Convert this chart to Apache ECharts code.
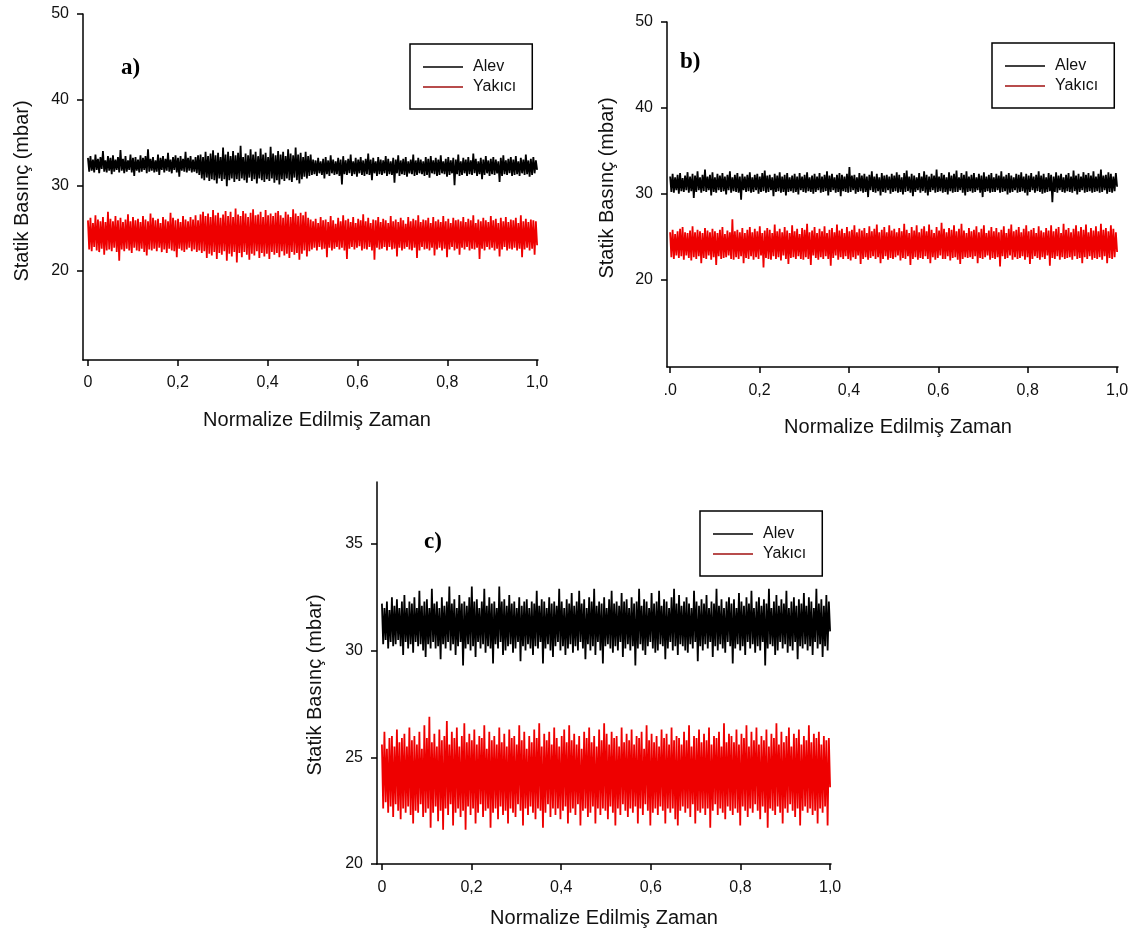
<!DOCTYPE html>
<html>
<head>
<meta charset="utf-8">
<script src="https://cdn.jsdelivr.net/npm/echarts@6/dist/echarts.min.js"></script>
<style>
  html, body { margin: 0; padding: 0; background: #fff; }
  #chart { width: 1140px; height: 937px; }
</style>
</head>
<body>
<div id="chart"></div>
<script>
// tick labels
const xTicks = [0, 0.2, 0.4, 0.6, 0.8, 1.0];
const yTicksAB = [20, 30, 40, 50];
const yTicksC = [20, 25, 30, 35];

// a) statik basinc, mbar (envelope of the signal)
const alevA = [
  33.2,31.6,33.4,31.7,33.0,31.5,33.6,31.8,33.1,31.4,33.3,31.9,34.0,31.6,32.9,31.5,33.4,31.7,33.2,31.3,
  33.5,31.6,33.0,31.8,33.3,31.5,34.1,31.7,33.1,31.4,33.4,31.6,32.9,31.8,33.6,31.5,33.2,31.1,33.3,31.7,
  33.0,31.5,33.5,31.6,33.2,31.8,33.4,31.4,34.2,31.6,33.1,31.7,33.3,31.5,32.9,31.6,33.6,31.2,33.2,31.8,
  33.4,31.5,33.1,31.7,33.8,31.6,33.0,31.4,33.3,31.8,33.5,31.5,33.2,31.0,33.4,31.7,33.1,31.6,33.9,31.5,
  33.2,31.7,33.4,31.5,33.0,31.6,33.3,31.4,33.5,31.2,33.6,30.8,33.3,30.6,33.9,30.9,33.4,30.5,33.7,30.7,
  34.1,30.6,33.5,30.2,33.8,30.8,33.3,30.5,34.4,30.7,33.6,29.9,33.9,30.6,33.4,30.8,34.0,30.4,33.5,30.7,
  33.8,30.5,34.6,30.8,33.3,30.6,33.7,30.3,33.5,30.9,34.2,30.5,33.6,30.7,33.9,30.2,33.4,30.8,34.3,30.6,
  33.6,30.4,33.8,30.7,33.3,30.5,34.5,30.8,33.7,30.3,33.5,30.6,34.0,30.1,33.6,30.7,33.9,30.5,33.4,30.8,
  34.2,30.6,33.7,30.4,33.5,30.9,34.4,30.6,33.6,30.2,33.8,30.7,33.3,31.0,33.9,30.8,33.4,31.1,33.6,31.2,
  33.0,31.3,32.9,31.1,33.2,31.4,32.8,31.2,33.1,30.8,33.3,31.3,32.9,31.1,33.5,31.4,33.0,31.2,32.8,31.3,
  33.2,31.1,33.0,30.1,33.4,31.3,32.9,31.2,33.1,31.4,33.6,31.1,32.8,31.3,33.2,31.0,33.0,31.4,33.3,31.2,
  32.9,31.1,33.1,31.3,33.7,31.2,33.0,30.6,33.2,31.4,32.8,31.1,33.3,31.3,33.0,31.2,32.9,31.4,33.4,31.1,
  33.1,31.3,32.8,31.2,33.2,30.3,33.0,31.4,33.5,31.1,32.9,31.3,33.1,31.2,33.3,31.0,32.8,31.4,33.0,31.3,
  33.6,31.1,32.9,31.2,33.2,31.4,33.0,31.3,32.8,31.1,33.3,31.2,33.1,30.9,33.4,31.4,32.9,31.3,33.2,31.1,
  33.0,31.2,33.5,31.4,32.8,31.3,33.1,31.0,33.3,31.2,32.9,31.4,33.2,30.0,33.0,31.3,33.6,31.1,32.8,31.2,
  33.2,31.4,33.0,31.1,33.3,31.3,32.9,31.2,33.7,31.4,33.1,31.1,32.8,31.3,33.2,30.7,33.0,31.2,33.4,31.4,
  32.9,31.1,33.1,31.3,33.3,31.2,33.0,31.4,32.8,30.4,33.2,31.1,33.5,31.3,32.9,31.2,33.1,31.4,33.3,31.1,
  33.0,31.2,33.4,31.3,32.8,31.1,33.2,31.4,33.0,31.2,33.6,31.3,32.9,31.0,33.1,31.2,33.3,31.4,32.9,31.8
];
const yakiciA = [
  25.9,22.5,26.2,22.3,25.6,22.8,26.5,22.4,26.0,22.2,25.8,22.6,26.3,21.9,25.7,22.4,26.9,22.5,26.1,22.3,
  25.8,22.7,26.4,22.2,25.9,21.2,26.2,22.5,25.7,22.3,26.0,22.6,26.6,22.4,25.8,22.1,26.3,22.7,25.9,22.4,
  26.1,22.3,25.7,22.6,26.4,22.2,26.0,21.8,25.8,22.5,26.7,22.4,26.2,22.6,25.9,22.3,26.1,22.7,25.6,22.2,
  26.3,22.5,26.0,22.1,25.8,22.6,26.8,22.4,26.2,22.3,25.9,21.6,26.1,22.6,25.7,22.4,26.4,22.2,26.0,22.5,
  25.8,22.7,26.3,22.3,26.0,22.5,26.5,22.2,25.9,22.4,26.6,22.1,26.9,22.3,26.4,21.5,26.7,22.0,26.3,21.8,
  27.1,22.2,26.5,21.4,26.8,22.1,26.2,21.9,26.6,22.3,27.0,21.2,26.4,22.0,26.9,21.7,26.3,22.2,27.3,21.0,
  26.6,22.1,26.4,21.6,27.0,22.2,26.7,21.9,26.3,21.3,26.8,22.0,27.2,21.8,26.5,22.3,26.6,21.5,26.9,22.1,
  26.3,21.7,27.1,22.0,26.5,21.4,26.7,22.2,26.4,21.9,26.8,22.1,27.0,21.6,26.5,22.3,26.2,21.8,26.9,22.0,
  26.6,21.5,26.3,22.2,27.2,21.9,26.7,22.1,26.4,21.3,26.8,22.0,26.5,22.4,26.9,21.7,26.2,22.3,26.0,22.5,
  25.8,22.7,26.1,22.4,25.6,22.8,26.3,22.5,25.9,22.6,26.0,21.6,25.7,22.7,26.4,22.4,25.9,22.6,25.5,22.8,
  26.2,22.5,25.8,22.7,26.5,22.4,25.9,21.4,26.1,22.6,25.7,22.8,26.3,22.5,25.6,22.7,26.1,22.9,25.9,22.4,
  26.6,22.6,25.8,22.5,26.2,22.8,25.6,22.4,26.0,21.3,25.9,22.7,26.3,22.5,25.7,22.6,26.1,22.8,25.9,22.4,
  25.6,22.8,26.4,22.5,25.8,22.6,26.0,21.7,25.7,22.7,26.2,22.4,25.9,22.6,25.5,22.8,26.3,22.5,25.8,22.4,
  26.1,22.7,25.9,21.5,26.5,22.4,25.7,22.8,26.0,22.5,25.9,22.6,26.2,22.4,25.6,22.7,26.3,21.8,25.8,22.5,
  26.0,22.7,25.7,22.4,26.4,22.6,25.8,21.6,26.1,22.5,25.6,22.8,26.2,22.4,25.9,22.6,26.0,21.9,25.8,22.7,
  26.3,22.5,25.7,22.8,26.1,22.4,25.9,22.6,26.5,22.5,25.6,22.7,26.0,21.4,25.8,22.6,26.2,22.4,25.9,22.8,
  25.7,22.5,26.4,22.7,25.9,22.4,26.1,22.6,25.6,21.7,26.2,22.5,25.8,22.8,26.3,22.4,25.7,22.6,26.0,22.5,
  25.9,22.7,26.2,22.4,25.6,22.6,26.5,21.6,25.8,22.5,26.1,22.7,25.7,22.4,26.0,22.6,25.9,21.9,25.8,23.0
];

// b)
const alevB = [
  32.0,30.2,32.3,30.1,31.9,30.4,32.2,30.0,32.4,30.3,31.8,30.2,32.1,30.4,32.5,30.1,32.0,30.3,32.3,29.5,
  32.1,30.2,32.6,30.4,31.9,30.1,32.2,30.3,32.8,30.2,32.0,30.4,32.2,29.8,32.5,30.2,31.9,30.1,32.3,30.4,
  32.1,30.2,32.4,30.3,32.0,29.9,32.2,30.4,32.6,30.1,31.9,30.3,32.2,30.2,32.4,30.1,32.0,29.3,32.3,30.4,
  32.0,30.2,32.2,30.3,32.5,30.1,31.9,30.2,32.2,30.4,32.3,30.0,32.0,30.2,32.4,30.3,32.7,30.1,32.1,30.2,
  32.2,30.4,31.9,29.7,32.3,30.2,32.1,30.3,32.5,30.1,32.0,30.2,32.2,29.8,32.4,30.2,31.9,30.3,32.1,30.1,
  32.3,30.2,32.0,29.9,32.4,30.4,32.0,30.2,32.2,30.1,32.5,30.3,31.9,30.2,32.1,30.0,32.3,30.2,32.0,30.4,
  32.4,30.1,32.0,30.2,32.2,30.3,32.6,29.8,32.1,30.2,32.3,30.4,31.9,30.1,32.2,30.2,32.4,29.7,32.2,30.3,
  32.0,30.2,32.3,30.1,33.1,30.2,32.1,30.4,32.2,30.0,31.9,30.2,32.4,30.3,32.1,30.1,32.3,30.2,32.0,29.6,
  32.2,30.4,32.6,30.2,32.0,30.1,32.3,30.3,31.9,29.8,32.4,30.2,32.1,30.1,32.2,30.4,32.0,30.0,32.3,30.2,
  32.1,30.3,32.5,30.1,32.2,30.2,31.9,29.9,32.4,30.2,32.7,30.3,32.0,30.1,32.3,29.7,32.1,30.2,31.9,30.4,
  32.4,30.1,32.0,30.3,32.6,30.1,32.2,29.8,32.0,30.2,32.3,30.4,32.1,30.1,32.8,30.2,32.0,30.3,32.4,30.1,
  32.2,30.2,31.9,29.9,32.5,30.3,32.1,30.1,32.3,30.2,32.7,30.2,31.9,30.4,32.4,30.1,32.2,29.8,32.6,30.2,
  32.0,30.3,32.2,30.1,32.4,30.2,31.9,30.4,32.3,30.1,32.1,29.6,32.5,30.2,32.0,30.3,32.2,30.1,32.4,30.2,
  31.9,30.2,32.3,30.4,32.1,30.1,32.6,30.2,32.0,30.3,32.2,29.9,32.4,30.1,32.1,30.2,31.9,30.4,32.3,30.1,
  32.2,30.2,32.5,30.3,32.0,30.1,32.3,29.8,32.1,30.2,32.4,30.4,32.0,30.1,32.2,30.3,32.6,30.2,32.1,30.0,
  32.3,30.1,31.9,30.2,32.4,30.3,32.2,29.0,32.0,30.2,32.5,30.1,32.1,30.4,32.3,30.2,31.9,30.1,32.2,30.3,
  32.4,30.2,32.0,30.1,32.7,30.3,32.1,29.9,32.3,30.2,32.0,30.4,32.5,30.1,32.2,30.2,32.4,30.3,32.1,30.1,
  32.6,30.2,32.0,30.3,32.3,30.1,32.8,30.2,32.1,30.4,32.2,30.0,32.5,30.2,32.3,30.1,32.0,30.3,32.4,30.8
];
const yakiciB = [
  25.5,22.6,25.8,22.4,25.3,22.8,25.6,22.5,25.9,22.7,26.1,22.3,25.5,22.8,25.4,22.5,25.7,22.2,26.2,22.6,
  25.5,22.4,25.8,22.7,25.6,21.9,25.4,22.5,26.0,22.4,25.7,22.8,25.5,22.3,25.9,22.6,25.6,21.7,25.4,22.7,
  25.8,22.4,26.1,22.5,25.3,22.6,25.7,22.8,25.5,22.4,27.0,22.3,25.6,22.6,25.8,22.4,25.5,22.7,26.0,21.9,
  25.4,22.5,25.8,22.4,26.1,22.7,25.5,22.3,25.9,22.6,25.6,22.4,26.2,22.8,25.4,21.4,25.7,22.5,26.0,22.4,
  25.8,22.3,25.4,22.7,26.4,22.4,25.6,22.6,25.9,22.2,25.5,22.8,26.1,22.4,25.7,21.8,25.4,22.5,26.3,22.6,
  25.6,22.4,25.9,22.7,25.3,22.4,26.0,22.3,25.8,22.6,26.5,22.4,25.5,21.7,25.7,22.8,26.1,22.5,25.4,22.3,
  25.9,22.6,25.6,22.4,26.2,22.7,25.4,22.4,25.8,21.6,26.0,22.5,25.5,22.8,26.4,22.3,25.7,22.6,25.9,22.4,
  25.4,22.7,26.1,22.4,25.6,22.2,25.8,22.6,26.3,22.4,25.5,22.8,25.9,21.8,25.7,22.4,26.0,22.6,25.4,22.3,
  26.2,22.5,25.6,22.7,25.9,22.4,26.4,22.6,25.5,21.9,25.8,22.4,26.1,22.7,25.5,22.3,26.3,22.5,25.7,22.4,
  25.9,22.6,25.5,22.8,26.0,22.2,25.6,22.5,26.5,22.4,25.8,22.7,25.4,21.7,26.1,22.4,25.7,22.6,26.3,22.3,
  25.5,22.5,25.9,22.4,26.2,22.7,25.6,22.4,26.4,21.9,25.8,22.6,25.4,22.3,26.1,22.5,25.7,22.8,26.6,22.4,
  25.9,22.4,25.5,22.7,26.0,22.2,25.8,22.5,26.3,22.6,25.6,22.3,25.9,21.8,26.5,22.4,25.7,22.6,25.4,22.5,
  26.0,22.6,25.6,22.4,25.8,22.7,26.2,21.9,25.5,22.5,25.9,22.4,26.3,22.6,25.4,22.8,25.7,22.3,26.1,22.5,
  25.6,22.4,26.0,22.6,25.5,21.5,25.8,22.7,26.2,22.4,25.4,22.5,25.9,22.8,26.4,22.3,25.6,22.6,25.8,22.4,
  26.1,22.5,25.5,22.7,25.9,22.3,26.3,22.6,25.6,21.8,25.8,22.4,26.0,22.7,25.4,22.5,26.2,22.3,25.7,22.6,
  25.5,22.4,26.0,22.8,25.7,21.6,26.3,22.5,25.6,22.4,25.9,22.7,26.1,22.3,25.4,22.6,26.5,22.4,25.8,22.5,
  26.0,22.6,25.5,22.3,25.9,22.7,26.3,22.4,25.6,22.5,26.1,21.9,25.8,22.6,26.4,22.4,25.5,22.7,26.0,22.3,
  25.7,22.5,26.2,22.4,25.6,22.6,26.5,22.3,25.8,22.7,26.0,21.9,25.6,22.5,26.3,22.4,25.9,22.6,25.5,23.2
];

// c)
const alevC = [
  32.2,30.3,32.0,30.5,32.3,30.1,31.9,30.4,32.5,30.2,32.1,30.3,32.4,30.5,32.0,30.2,32.3,29.8,32.6,30.4,
  32.0,30.1,32.3,30.3,32.2,29.9,32.5,30.4,32.0,30.2,32.8,30.3,32.1,30.0,32.3,29.7,32.4,30.3,32.0,30.1,
  32.9,30.4,32.2,30.1,32.3,30.2,32.0,29.6,32.5,30.3,32.1,30.1,32.3,30.4,33.0,30.0,32.2,30.3,32.4,29.8,
  32.0,30.2,32.6,30.4,32.2,29.3,32.3,30.1,32.1,30.3,32.5,30.0,33.0,30.2,32.3,29.7,32.4,30.4,32.0,30.1,
  32.3,30.3,32.9,29.9,32.1,30.2,32.5,30.1,32.2,29.4,32.3,30.3,32.0,30.1,33.0,30.4,32.3,29.8,32.4,30.0,
  32.1,30.2,32.6,30.3,32.2,29.9,32.3,30.1,32.0,30.4,32.5,29.5,32.1,30.2,32.3,30.0,32.4,30.3,32.0,30.1,
  32.3,29.8,32.2,30.2,32.8,30.1,32.1,30.4,32.4,29.4,32.3,30.1,32.0,30.3,32.5,30.0,32.2,29.7,32.3,30.2,
  32.1,30.4,32.9,30.0,32.3,30.2,32.0,29.8,32.4,30.1,32.2,30.3,32.7,29.9,32.1,30.2,32.3,30.0,32.8,30.4,
  32.2,30.1,32.4,29.6,32.0,30.3,32.5,30.0,32.3,30.2,32.9,29.8,32.1,30.4,32.3,30.0,32.2,29.4,32.5,30.2,
  32.0,30.3,32.4,30.1,32.8,29.9,32.2,30.2,32.3,30.0,32.1,30.4,32.7,29.7,32.3,30.1,32.4,30.3,32.0,30.0,
  32.5,30.2,32.2,29.3,32.3,30.1,32.9,30.3,32.1,30.0,32.4,29.8,32.3,30.2,32.0,30.4,32.7,30.1,32.2,29.9,
  32.3,30.0,32.8,30.3,32.1,30.2,32.4,29.6,32.3,30.1,32.0,30.4,32.5,30.0,32.9,30.2,32.2,29.8,32.6,30.3,
  32.1,30.2,32.3,30.0,32.5,29.9,32.2,30.3,32.0,30.1,32.8,30.4,32.3,29.5,32.1,30.2,32.4,30.0,32.2,30.3,
  32.6,30.1,32.0,30.4,32.3,29.7,32.2,30.2,32.9,30.0,32.1,30.3,32.4,30.1,32.0,29.9,32.3,30.4,32.5,30.2,
  32.2,29.4,32.4,30.1,32.0,30.3,32.7,30.0,32.3,30.2,32.1,29.8,32.5,30.4,32.2,30.1,32.8,30.3,32.0,29.9,
  32.3,30.2,32.5,30.0,32.1,30.4,32.4,29.3,32.2,30.1,32.9,30.3,32.0,30.2,32.3,29.8,32.6,30.0,32.1,30.4,
  32.4,30.1,32.2,30.3,32.8,29.9,32.0,30.2,32.3,30.0,32.5,30.4,32.1,29.6,32.4,30.2,32.2,30.1,32.7,30.3,
  32.1,30.0,32.5,30.2,32.3,29.8,32.0,30.4,32.9,30.1,32.2,30.3,32.4,29.7,32.1,30.2,32.6,30.0,32.3,30.9
];
const yakiciC = [
  25.6,22.6,26.2,22.9,25.4,22.4,25.9,22.7,26.0,22.2,25.5,22.8,26.3,22.5,25.7,22.1,25.9,22.6,26.1,22.4,
  25.5,22.7,26.4,22.3,25.8,21.9,26.0,22.5,25.6,22.4,26.2,22.8,25.4,22.2,26.5,22.4,25.9,22.6,26.9,21.7,
  25.7,22.4,26.1,22.7,25.5,22.0,26.3,22.5,25.8,21.6,26.0,22.6,26.7,22.3,25.6,22.8,26.2,21.8,25.9,22.4,
  26.4,22.6,25.5,22.2,26.0,22.5,26.6,21.6,25.7,22.7,26.1,22.3,25.8,22.6,26.3,21.9,25.6,22.4,26.0,22.8,
  25.9,22.2,26.5,22.5,25.4,22.6,26.2,21.7,25.8,22.4,26.0,22.6,25.6,22.1,26.4,22.7,25.7,22.3,26.1,22.5,
  25.5,21.9,26.3,22.6,25.9,22.4,26.0,22.2,25.6,22.8,26.5,22.5,25.8,21.8,26.2,22.6,25.4,22.3,26.0,22.7,
  25.7,22.4,26.3,22.1,25.9,22.6,26.6,22.5,25.5,21.7,26.1,22.4,25.8,22.8,26.2,22.2,25.6,22.6,26.4,22.3,
  25.9,22.6,25.5,22.1,26.0,22.5,26.3,22.7,25.7,21.9,26.5,22.4,25.8,22.6,26.1,22.3,25.6,22.8,26.0,21.8,
  25.4,22.5,26.2,22.6,25.9,22.2,26.4,22.4,25.7,22.7,26.0,21.9,25.5,22.6,26.3,22.3,25.8,22.6,26.6,22.5,
  26.1,22.1,25.6,22.7,26.2,22.4,25.9,21.8,26.0,22.6,25.5,22.3,26.4,22.8,25.7,22.5,26.1,22.2,25.8,22.6,
  26.3,22.4,25.6,22.7,26.0,21.9,25.9,22.6,26.2,22.3,25.4,22.8,26.5,22.5,25.8,21.8,26.1,22.4,25.7,22.6,
  26.0,22.3,25.5,22.7,26.3,22.5,25.9,21.9,26.1,22.6,25.6,22.4,26.4,22.6,25.8,22.1,26.0,21.8,25.9,22.5,
  25.6,22.7,26.2,22.4,25.8,22.6,26.5,22.2,25.5,22.8,26.0,21.9,25.9,22.5,26.3,22.4,25.7,22.6,26.1,22.3,
  25.8,22.6,26.4,21.7,25.6,22.5,26.0,22.8,25.9,22.3,26.2,22.6,25.5,22.4,26.6,22.1,25.7,22.7,26.1,22.5,
  26.0,22.3,25.7,22.6,26.3,22.4,25.6,21.8,26.1,22.7,25.9,22.5,26.5,22.2,25.5,22.6,26.2,22.4,25.8,22.8,
  26.4,22.5,25.6,22.1,26.0,22.7,25.8,22.4,26.3,21.7,25.5,22.6,26.1,22.5,25.9,22.3,26.6,22.7,25.6,22.4,
  26.2,21.9,25.7,22.6,26.0,22.4,26.4,22.8,25.5,22.5,26.1,22.2,25.9,22.6,26.3,21.8,25.6,22.5,26.0,22.7,
  25.8,22.4,26.5,22.6,25.7,22.3,26.1,22.5,25.9,21.9,26.2,22.6,25.6,22.4,26.0,22.7,25.8,21.8,25.9,23.6
];

// samples are evenly spread over normalized time 0..1
function toPoints(vals) {
  return vals.map(function (v, i) { return [i / (vals.length - 1), v]; });
}

var chart = echarts.init(document.getElementById('chart'));

var axisColor = '#000';
var labelFont = { fontFamily: 'Arial, "Liberation Sans", sans-serif', fontSize: 16, color: '#111' };

function xAxisFor(gridIndex, min, zeroText, margin) {
  return {
    type: 'value', gridIndex: gridIndex, min: min, max: 1.002,
    axisLine: { show: true, onZero: false, lineStyle: { color: axisColor, width: 1.5 } },
    axisTick: { show: true, length: 6, customValues: xTicks, lineStyle: { color: axisColor, width: 1.5 } },
    axisLabel: Object.assign({
      margin: margin, customValues: xTicks,
      formatter: function (v) { return v === 0 ? zeroText : v.toFixed(1).replace('.', ','); }
    }, labelFont),
    splitLine: { show: false }
  };
}

function yAxisFor(gridIndex, min, max, ticks) {
  return {
    type: 'value', gridIndex: gridIndex, min: min, max: max,
    axisLine: { show: true, onZero: false, lineStyle: { color: axisColor, width: 1.5 } },
    axisTick: { show: true, length: 6, customValues: ticks, lineStyle: { color: axisColor, width: 1.5 } },
    axisLabel: Object.assign({ margin: 14, customValues: ticks }, labelFont),
    splitLine: { show: false }
  };
}

function lineSeries(name, idx, vals, color) {
  return {
    name: name, type: 'line', xAxisIndex: idx, yAxisIndex: idx,
    data: toPoints(vals), symbol: 'none', sampling: null,
    lineStyle: { color: color, width: 1.8 }, itemStyle: { color: color },
    animation: false, silent: true
  };
}

function legendAt(left, top) {
  return {
    orient: 'vertical', left: left, top: top,
    icon: 'rect', itemWidth: 40, itemHeight: 1.5, itemGap: 4,
    padding: [15, 16, 14, 13],
    borderColor: '#000', borderWidth: 1.5, borderRadius: 0,
    backgroundColor: '#fff',
    selectedMode: false,
    textStyle: { fontFamily: 'Arial, "Liberation Sans", sans-serif', fontSize: 16, color: '#111', padding: [0, 0, 0, 5] },
    data: [
      { name: 'Alev', itemStyle: { color: '#000' } },
      { name: 'Yakıcı', itemStyle: { color: '#a01010' } }
    ]
  };
}

function yTitle(x, y, text) {
  return {
    type: 'text', x: x, y: y, rotation: Math.PI / 2,
    style: { text: text, font: '20px Arial, "Liberation Sans", sans-serif', fill: '#111', align: 'center', verticalAlign: 'middle' }
  };
}
function xTitle(x, y, text) {
  return {
    type: 'text', x: x, y: y,
    style: { text: text, font: '20px Arial, "Liberation Sans", sans-serif', fill: '#111', align: 'center', verticalAlign: 'middle' }
  };
}
function panelTag(x, y, text) {
  return {
    type: 'text', x: x, y: y,
    style: { text: text, font: 'bold 23px "Liberation Serif", "Times New Roman", serif', fill: '#000', align: 'left', verticalAlign: 'middle' }
  };
}

chart.setOption({
  animation: false,
  backgroundColor: '#fff',
  grid: [
    { left: 83, top: 14, width: 455, height: 346 },
    { left: 667, top: 22, width: 451, height: 345 },
    { left: 377, top: 482, width: 454, height: 382 }
  ],
  xAxis: [
    xAxisFor(0, -0.011, '0', 15),
    xAxisFor(1, -0.007, '.0', 16),
    xAxisFor(2, -0.011, '0', 16)
  ],
  yAxis: [
    yAxisFor(0, 9.6, 50, yTicksAB),
    yAxisFor(1, 9.8, 50, yTicksAB),
    yAxisFor(2, 20, 37.9, yTicksC)
  ],
  legend: [legendAt(410, 44), legendAt(992, 43), legendAt(700, 511)],
  series: [
    lineSeries('Alev', 0, alevA, '#000'),
    lineSeries('Yakıcı', 0, yakiciA, '#ee0000'),
    lineSeries('Alev', 1, alevB, '#000'),
    lineSeries('Yakıcı', 1, yakiciB, '#ee0000'),
    lineSeries('Alev', 2, alevC, '#000'),
    lineSeries('Yakıcı', 2, yakiciC, '#ee0000')
  ],
  graphic: [
    yTitle(22, 191, 'Statik Basınç (mbar)'),
    yTitle(607, 188, 'Statik Basınç (mbar)'),
    yTitle(315, 685, 'Statik Basınç (mbar)'),
    xTitle(317, 420, 'Normalize Edilmiş Zaman'),
    xTitle(898, 427, 'Normalize Edilmiş Zaman'),
    xTitle(604, 918, 'Normalize Edilmiş Zaman'),
    panelTag(121, 68, 'a)'),
    panelTag(680, 62, 'b)'),
    panelTag(424, 542, 'c)')
  ]
});
</script>
</body>
</html>
